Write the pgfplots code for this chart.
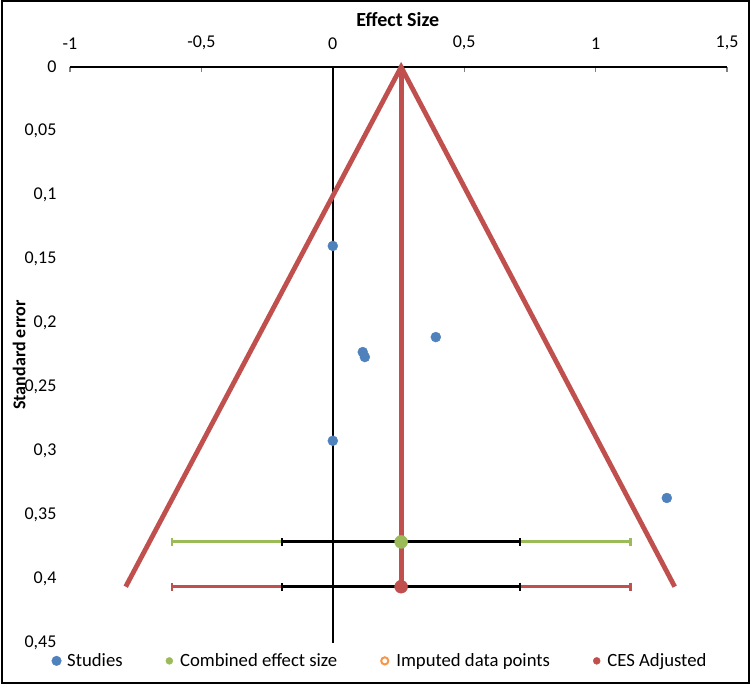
\documentclass[border=0pt]{standalone}
\usepackage{pgfplots}
\pgfplotsset{compat=1.18}
\usepackage{fontspec}
\setmainfont{Carlito}
\definecolor{sblue}{HTML}{4F81BD}
\definecolor{sred}{HTML}{C0504D}
\definecolor{sgreen}{HTML}{9BBB59}
\definecolor{sorange}{HTML}{F79646}
\newcommand{\fs}{\fontsize{18}{21}\selectfont}
\newcommand{\fl}{\fontsize{18.7}{22}\selectfont}
\newcommand{\ft}{\fontsize{20}{23}\selectfont}
\begin{document}
\begin{tikzpicture}
\useasboundingbox (0pt,0pt) rectangle (751pt,687pt);
\draw[line width=2pt] (2pt,4.5pt) rectangle (749pt,685.5pt);
\begin{axis}[
  at={(70pt,44pt)}, anchor=south west,
  scale only axis, width=657pt, height=576pt,
  xmin=-1, xmax=1.5, ymin=0, ymax=0.45, y dir=reverse,
  axis x line*=middle, axis y line*=left,
  hide obscured x ticks=false,
  x axis line style={line width=1.5pt},
  y axis line style={draw=none},
  ytick style={draw=none},
  xtick style={line width=1.2pt},
  xtick align=inside,
  major tick length=5pt,
  xtick={-1,-0.5,0,0.5,1,1.5},
  ytick={0,0.05,0.1,0.15,0.2,0.25,0.3,0.35,0.4,0.45},
  scaled y ticks=false, scaled x ticks=false,
  /pgf/number format/.cd, use comma, fixed, precision=2, 1000 sep={}, assume math mode=true,
  /pgfplots/.cd,
  tick label style={font=\fs, text=black},
  xticklabel style={anchor=south, yshift=14pt},
  yticklabel style={anchor=east, xshift=-10pt},
  xlabel={Effect Size},
  xlabel style={at={(axis description cs:0.499,1.0816)}, anchor=center, font=\ft\bfseries},
  ylabel={Standard error},
  ylabel style={at={(axis description cs:-0.0776,0.5)}, anchor=center, font=\fs\bfseries},
  legend style={at={(axis description cs:0.469,-0.031)}, anchor=center, draw=none, fill=none,
    legend columns=4, font=\fl, /tikz/every even column/.append style={column sep=36pt}},
  legend image code/.code={\path (-8.5pt,0pt) (8.5pt,0pt); \draw[#1] plot coordinates {(0pt,0pt)};},
  legend cell align=left,
  clip=false,
]
% vertical axis line at x = 0
\addplot[forget plot, black, line width=1.8pt] coordinates {(0,0) (0,0.45)};
% funnel
\addplot[forget plot, sred, line width=4.8pt] coordinates {(-0.788,0.406) (0.26,0) (1.301,0.406)};
\addplot[forget plot, sred, line width=4.8pt] coordinates {(0.26,0) (0.26,0.406)};
% studies
\addplot[forget plot, only marks, mark=*, mark size=5pt, color=sblue, mark options={draw=sblue, fill=sblue}]
  coordinates {(0,0.1398) (0.114,0.2227) (0.122,0.2266) (0.392,0.211) (0,0.292) (1.271,0.3367)};
% combined effect size CI
\addplot[forget plot, draw=none, mark=none,
  error bars/.cd, x dir=both, x explicit,
  error bar style={line width=3pt, color=sgreen},
  error mark options={mark size=4pt, line width=2.4pt, color=sgreen, rotate=90}]
  coordinates {(0.26,0.371) +- (0.873,0)};
\addplot[forget plot, draw=none, mark=none,
  error bars/.cd, x dir=both, x explicit,
  error bar style={line width=3pt, color=black},
  error mark options={mark size=4pt, line width=2.4pt, color=black, rotate=90}]
  coordinates {(0.26,0.371) +- (0.453,0)};
\addplot[forget plot, only marks, mark=*, mark size=6.5pt, color=sgreen, mark options={draw=sgreen, fill=sgreen}]
  coordinates {(0.26,0.371)};
% CES adjusted CI
\addplot[forget plot, draw=none, mark=none,
  error bars/.cd, x dir=both, x explicit,
  error bar style={line width=3pt, color=sred},
  error mark options={mark size=4pt, line width=2.4pt, color=sred, rotate=90}]
  coordinates {(0.26,0.406) +- (0.873,0)};
\addplot[forget plot, draw=none, mark=none,
  error bars/.cd, x dir=both, x explicit,
  error bar style={line width=3pt, color=black},
  error mark options={mark size=4pt, line width=2.4pt, color=black, rotate=90}]
  coordinates {(0.26,0.406) +- (0.453,0)};
\addplot[forget plot, only marks, mark=*, mark size=6.5pt, color=sred, mark options={draw=sred, fill=sred}]
  coordinates {(0.26,0.406)};
% legend
\addlegendimage{only marks, mark=*, mark size=4.8pt, color=sblue}
\addlegendentry{Studies}
\addlegendimage{only marks, mark=*, mark size=3.5pt, color=sgreen}
\addlegendentry{Combined effect size}
\addlegendimage{only marks, mark=o, mark size=3.6pt, line width=2pt, color=sorange}
\addlegendentry{Imputed data points}
\addlegendimage{only marks, mark=*, mark size=3.5pt, color=sred}
\addlegendentry{CES Adjusted}
\end{axis}
\end{tikzpicture}
\end{document}
